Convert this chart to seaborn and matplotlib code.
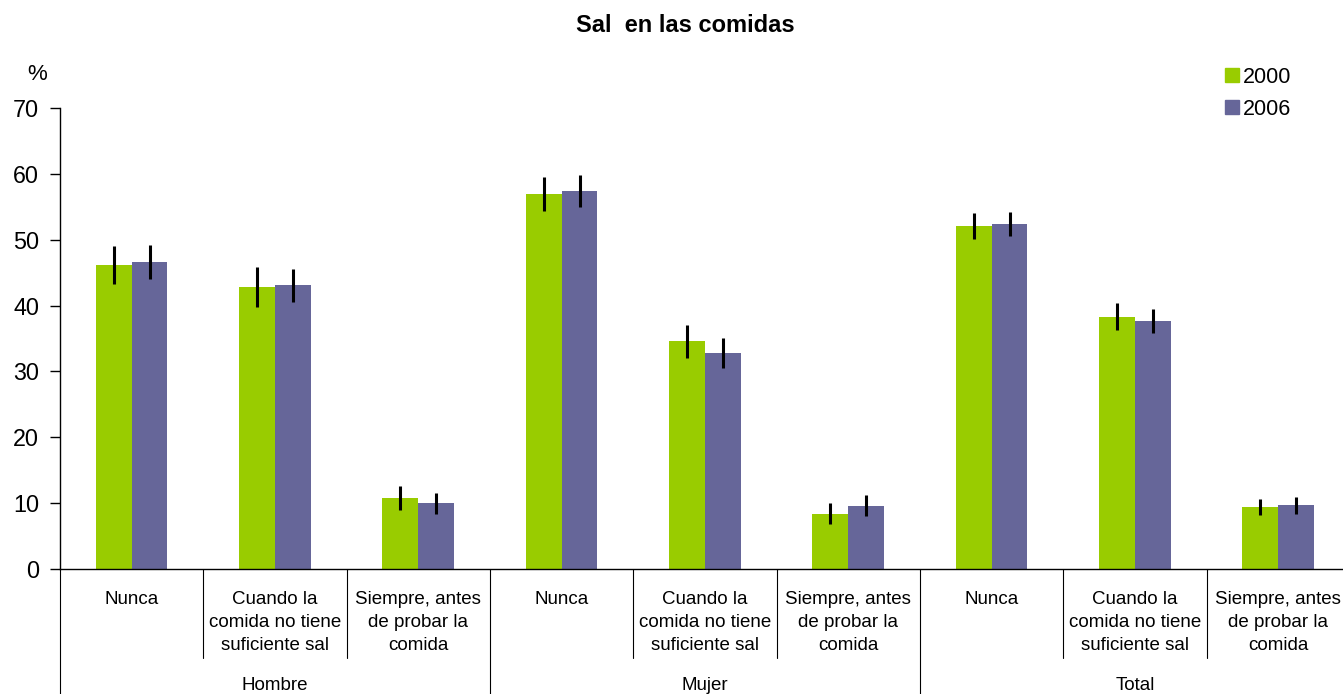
import matplotlib
matplotlib.use("Agg")
import matplotlib.pyplot as plt
import matplotlib.transforms as mtransforms
from matplotlib.lines import Line2D
import seaborn as sns
import pandas as pd
import numpy as np

# ---- data ----
groups = ["Hombre", "Mujer", "Total"]
answers = ["Nunca", "Cuando la\ncomida no tiene\nsuficiente sal", "Siempre, antes\nde probar la\ncomida"]
years = ["2000", "2006"]
values_2000 = [46.2, 42.8, 10.8, 56.9, 34.6, 8.4, 52.1, 38.3, 9.4]
values_2006 = [46.6, 43.1, 10.0, 57.4, 32.8, 9.6, 52.4, 37.7, 9.7]
err_2000 = [2.9, 3.0, 1.8, 2.6, 2.5, 1.6, 2.0, 2.05, 1.2]
err_2006 = [2.6, 2.5, 1.6, 2.45, 2.35, 1.6, 1.8, 1.8, 1.3]
title = "Sal  en las comidas"
y_ticks = [0, 10, 20, 30, 40, 50, 60, 70]

sns.set_theme(style="white")
plt.rcParams['font.family'] = ['Liberation Sans', 'DejaVu Sans']
plt.rcParams['text.color'] = 'black'
plt.rcParams['axes.labelcolor'] = 'black'
plt.rcParams['xtick.color'] = 'black'
plt.rcParams['ytick.color'] = 'black'

cat_ids = [f"{g}|{a}" for g in groups for a in answers]
df = pd.DataFrame({
    "cat": cat_ids * 2,
    "year": [years[0]] * 9 + [years[1]] * 9,
    "value": values_2000 + values_2006,
})

fig = plt.figure(figsize=(13.43, 6.94), dpi=100)
W, H = 1343, 694
x0, x1 = 60, 1350
y0, y1 = 569, 108
ax = fig.add_axes([x0 / W, 1 - y0 / H, (x1 - x0) / W, (y0 - y1) / H])

palette = {"2000": "#99CC00", "2006": "#666699"}
sns.barplot(data=df, x="cat", y="value", hue="year", order=cat_ids,
            hue_order=years, palette=palette, width=0.5, gap=0,
            saturation=1, errorbar=None, ax=ax, legend=False,
            linewidth=0, edgecolor="none")

for cont, errs in zip(ax.containers, [err_2000, err_2006]):
    xs = [p.get_x() + p.get_width() / 2 for p in cont.patches]
    hs = [p.get_height() for p in cont.patches]
    ax.errorbar(xs, hs, yerr=errs, fmt="none", ecolor="black",
                elinewidth=2.2, capsize=0, zorder=5)

ax.set_ylim(0, 70)
ax.set_xlim(-0.5, 8.5)
ax.set_yticks(y_ticks)
ax.tick_params(axis="y", labelsize=16.8, length=7, width=1, direction="out",
               left=True, pad=8, colors="black")
ax.set_xticks([])
ax.set_xlabel("")
ax.set_ylabel("")
for s in ["top", "right"]:
    ax.spines[s].set_visible(False)
ax.spines["left"].set_color("black")
ax.spines["bottom"].set_color("black")
ax.spines["left"].set_linewidth(1)
ax.spines["bottom"].set_linewidth(1)

trans = mtransforms.blended_transform_factory(ax.transData, ax.transAxes)
px = 1.0 / (y0 - y1)
# category separators
for i in range(9):
    xb = i - 0.5
    depth = 125 if i % 3 == 0 else 89
    ax.plot([xb, xb], [0, -depth * px], transform=trans, color="black",
            lw=0.8, clip_on=False)
# category labels
for i, cid in enumerate(cat_ids):
    ans = cid.split("|")[1]
    ax.text(i, -22 * px, ans, transform=trans, ha="center", va="top",
            fontsize=13.5, linespacing=1.45, color="black")
# group labels
for gi, g in enumerate(groups):
    ax.text(gi * 3 + 1, -116 * px, g, transform=trans, ha="center",
            va="center", fontsize=13.5, color="black")

fig.text(685 / W, 1 - 25 / H, title, ha="center",
         va="center", fontsize=17, fontweight="bold", color="black")
fig.text(37 / W, 1 - 75 / H, "%", ha="center", va="center", fontsize=16,
         color="black")

handles = [Line2D([], [], marker="s", linestyle="none", markersize=9.5,
                  markerfacecolor=palette[y], markeredgecolor=palette[y])
           for y in years]
fig.legend(handles, years, loc="upper left", bbox_to_anchor=(1210 / W, 1 - 56 / H),
           frameon=False, fontsize=15.5, handletextpad=0.05, labelspacing=0.5,
           borderpad=0, handlelength=1.0)

fig.savefig("out.png", dpi=100)
